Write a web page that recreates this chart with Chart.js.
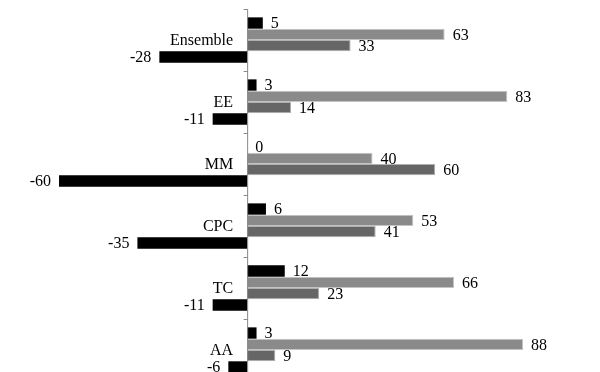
<!DOCTYPE html>
<html>
<head>
<meta charset="utf-8">
<script src="https://cdn.jsdelivr.net/npm/chart.js@4/dist/chart.umd.min.js"></script>
<style>
  html, body { margin: 0; padding: 0; background: #fff; overflow: hidden; }
</style>
</head>
<body>
<canvas id="barChart" width="600" height="381"></canvas>
<script>
// categorias y series
const categorias = ['Ensemble', 'EE', 'MM', 'CPC', 'TC', 'AA'];
const serieNegra = [5, 3, 0, 6, 12, 3];
const serieClara = [63, 83, 40, 53, 66, 88];
const serieOscura = [33, 14, 60, 41, 23, 9];
const serieNegativa = [-28, -11, -60, -35, -11, -6];

const fuente = '16px "Liberation Serif"';

// etiquetas de valor, nombres de categoria y marcas del eje en el cero
const etiquetasValor = {
    id: 'etiquetasValor',
    afterDatasetsDraw(chart) {
        const ctx = chart.ctx;
        const xs = chart.scales.x;
        const ys = chart.scales.y;
        const x0 = xs.getPixelForValue(0);
        ctx.save();
        ctx.font = fuente;
        ctx.fillStyle = '#000';
        ctx.textBaseline = 'middle';
        chart.data.datasets.forEach((ds, i) => {
            chart.getDatasetMeta(i).data.forEach((bar, j) => {
                const v = ds.data[j];
                if (v < 0) {
                    ctx.textAlign = 'right';
                    ctx.fillText(v, bar.x - 8, bar.y + 1);
                } else {
                    ctx.textAlign = 'left';
                    ctx.fillText(v, bar.x + 8, bar.y + 1);
                }
            });
        });

        // nombres de categoria a la izquierda del eje
        ctx.textAlign = 'right';
        categorias.forEach((c, i) => {
            ctx.fillText(c, x0 - 14, ys.getPixelForValue(i) + 1);
        });

        // eje vertical y marcas entre categorias
        ctx.strokeStyle = '#888';
        ctx.lineWidth = 1;
        ctx.beginPath();
        ctx.moveTo(x0 + 0.5, ys.top);
        ctx.lineTo(x0 + 0.5, ys.bottom);
        const paso = ys.getPixelForValue(1) - ys.getPixelForValue(0);
        for (let i = 0; i <= categorias.length; i++) {
            const y = Math.round(ys.getPixelForValue(i) - paso / 2) + 0.5;
            ctx.moveTo(x0 - 3.5, y);
            ctx.lineTo(x0 + 0.5, y);
        }
        ctx.stroke();
        ctx.restore();
    }
};

const ctx = document.getElementById('barChart').getContext('2d');
new Chart(ctx, {
    type: 'bar',
    data: {
        labels: categorias,
        datasets: [
            { data: serieNegra, backgroundColor: '#000000', borderWidth: 0 },
            { data: serieClara, backgroundColor: '#8a8a8a', borderColor: '#c4c4c4', borderWidth: 1 },
            { data: serieOscura, backgroundColor: '#666666', borderColor: '#b0b0b0', borderWidth: 1 },
            { data: serieNegativa, backgroundColor: '#000000', borderWidth: 0 }
        ]
    },
    options: {
        indexAxis: 'y',
        responsive: false,
        animation: false,
        datasets: {
            bar: { barPercentage: 1, categoryPercentage: 0.73 }
        },
        layout: {
            padding: { left: 12, right: 8, top: 9, bottom: 0 }
        },
        plugins: {
            legend: { display: false },
            tooltip: { enabled: false }
        },
        scales: {
            x: {
                display: false,
                min: -75,
                max: 110
            },
            y: {
                display: false
            }
        }
    },
    plugins: [etiquetasValor]
});
</script>
</body>
</html>
